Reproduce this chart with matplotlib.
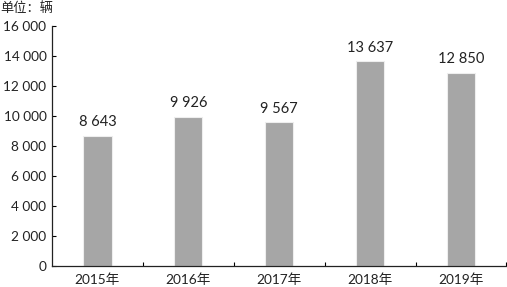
import matplotlib
matplotlib.use("Agg")
import matplotlib.pyplot as plt

plt.rcParams['font.family'] = ['Lato', 'Noto Sans CJK SC', 'DejaVu Sans']

categories = ["2015年", "2016年", "2017年", "2018年", "2019年"]
values = [8643, 9926, 9567, 13637, 12850]
value_labels = ["8 643", "9 926", "9 567", "13 637", "12 850"]
yticks = [0, 2000, 4000, 6000, 8000, 10000, 12000, 14000, 16000]
ytick_labels = ["0", "2 000", "4 000", "6 000", "8 000", "10 000", "12 000", "14 000", "16 000"]
unit_label = "单位：辆"

fig = plt.figure(figsize=(5.07, 2.87), dpi=100)
ax = fig.add_axes([52/507, 1-266/287, (507-52)/507 - 0.001, (266-26)/287])

x = list(range(len(categories)))
ax.bar(x, values, width=0.31, color="#a6a6a6", edgecolor="#eeeeee", linewidth=0.8)
for xi, v, lab in zip(x, values, value_labels):
    ax.annotate(lab, (xi, v), xytext=(0, 5), textcoords="offset points",
                ha="center", va="bottom", fontsize=10.5, color="#222222")

ax.set_xlim(-0.5, len(categories) - 0.5)
ax.set_ylim(0, 16000)
ax.set_yticks(yticks)
ax.set_yticklabels(ytick_labels, fontsize=9.8, color="#222222")
ax.set_xticks(x)
ax.set_xticklabels(categories, fontsize=9.8, color="#222222")
ax.tick_params(axis='x', length=0, pad=5)
ax.set_xticks([i + 0.5 for i in x], minor=True)
ax.tick_params(axis='x', which='minor', direction='in', length=3, width=0.8)
ax.tick_params(axis='y', direction='in', length=3, width=0.8, pad=4)
for s in ['top', 'right']:
    ax.spines[s].set_visible(False)
for s in ['left', 'bottom']:
    ax.spines[s].set_linewidth(0.9)
    ax.spines[s].set_color("#222222")

fig.text(0.0, 1 - 8/287, unit_label, fontsize=9.5, ha="left", va="center", color="#222222")

fig.savefig("out.png", dpi=100)
